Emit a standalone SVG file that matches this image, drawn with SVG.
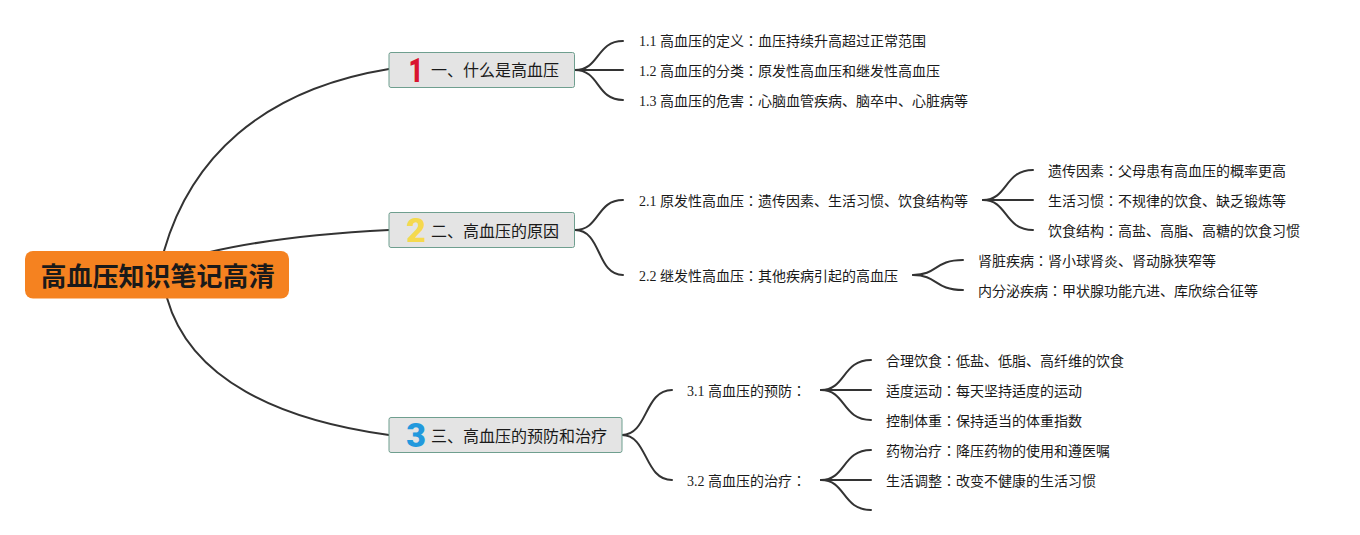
<svg xmlns="http://www.w3.org/2000/svg" width="1360" height="535" viewBox="0 0 1360 535">
<style>
text{font-family:"Liberation Serif","Noto Sans CJK JP",sans-serif;fill:#1a1a1a}
.l{font-size:14px}
.t{font-size:16px}
.b{fill:#e4e4e4;stroke:#6f9f8f;stroke-width:1}
.c{fill:none;stroke:#333;stroke-width:2;stroke-linecap:round}
.n{font-family:Roboto,"Liberation Sans",sans-serif;font-size:34px;font-weight:900;text-anchor:middle}
</style>
<rect width="1360" height="535" fill="#fff"/>
<g id="connectors">
<path class="c" d="M164 251C190 160 260 90 389 69"/>
<path class="c" d="M210 252C270 238 330 233 389 230"/>
<path class="c" d="M167 298C190 380 280 420 389 435"/>
<path class="c" d="M575 70C600 70 596 41 623 41"/>
<path class="c" d="M575 70H623"/>
<path class="c" d="M575 70C600 70 596 100 623 100"/>
<path class="c" d="M575 230C600 230 596 200 623 200"/>
<path class="c" d="M575 230C602 230 596 275 623 275"/>
<path class="c" d="M622 435C648 435 644 390 672 390"/>
<path class="c" d="M622 435C648 435 644 480 672 480"/>
<path class="c" d="M983 200C1008 200 1004 170 1033 170"/>
<path class="c" d="M983 200H1033"/>
<path class="c" d="M983 200C1008 200 1004 230 1033 230"/>
<path class="c" d="M913 275C938 275 934 260 963 260"/>
<path class="c" d="M913 275C938 275 934 290 963 290"/>
<path class="c" d="M821 390C846 390 842 360 871 360"/>
<path class="c" d="M821 390H871"/>
<path class="c" d="M821 390C846 390 842 420 871 420"/>
<path class="c" d="M821 480C846 480 842 450 871 450"/>
<path class="c" d="M821 480H871"/>
<path class="c" d="M821 480C846 480 842 510 871 510"/>
</g>
<g id="root">
<rect x="25" y="251" width="264" height="47.500" rx="8" fill="#f58220"/>
<text x="40.500" y="286" font-size="26" font-weight="bold">高血压知识笔记高清</text>
</g>
<g id="topic1"><rect class="b" x="389" y="52.500" width="185.500" height="35" rx="2"/><text class="n" transform="translate(416 82) scale(.75 1)" style="fill:#d9142e">1</text><text class="t" x="431" y="76">一、什么是高血压</text></g>
<g id="topic2"><rect class="b" x="389" y="212.500" width="185.500" height="35" rx="2"/><text class="n" x="416" y="242" style="fill:#f5d94e">2</text><text class="t" x="431" y="237">二、高血压的原因</text></g>
<g id="topic3"><rect class="b" x="389" y="417.500" width="233" height="35" rx="2"/><text class="n" x="416" y="447" style="fill:#2299dd">3</text><text class="t" x="431" y="442">三、高血压的预防和治疗</text></g>
<g id="n11"><text class="l" x="639" y="46">1.1 高血压的定义：血压持续升高超过正常范围</text></g>
<g id="n12"><text class="l" x="639" y="76">1.2 高血压的分类：原发性高血压和继发性高血压</text></g>
<g id="n13"><text class="l" x="639" y="106">1.3 高血压的危害：心脑血管疾病、脑卒中、心脏病等</text></g>
<g id="n21"><text class="l" x="639" y="206">2.1 原发性高血压：遗传因素、生活习惯、饮食结构等</text></g>
<g id="n22"><text class="l" x="639" y="281">2.2 继发性高血压：其他疾病引起的高血压</text></g>
<g id="n211"><text class="l" x="1048" y="176">遗传因素：父母患有高血压的概率更高</text></g>
<g id="n212"><text class="l" x="1048" y="206">生活习惯：不规律的饮食、缺乏锻炼等</text></g>
<g id="n213"><text class="l" x="1048" y="236">饮食结构：高盐、高脂、高糖的饮食习惯</text></g>
<g id="n221"><text class="l" x="978" y="266">肾脏疾病：肾小球肾炎、肾动脉狭窄等</text></g>
<g id="n222"><text class="l" x="978" y="296">内分泌疾病：甲状腺功能亢进、库欣综合征等</text></g>
<g id="n31"><text class="l" x="687" y="396">3.1 高血压的预防：</text></g>
<g id="n32"><text class="l" x="687" y="486">3.2 高血压的治疗：</text></g>
<g id="n311"><text class="l" x="886" y="366">合理饮食：低盐、低脂、高纤维的饮食</text></g>
<g id="n312"><text class="l" x="886" y="396">适度运动：每天坚持适度的运动</text></g>
<g id="n313"><text class="l" x="886" y="426">控制体重：保持适当的体重指数</text></g>
<g id="n321"><text class="l" x="886" y="456">药物治疗：降压药物的使用和遵医嘱</text></g>
<g id="n322"><text class="l" x="886" y="486">生活调整：改变不健康的生活习惯</text></g>
</svg>
